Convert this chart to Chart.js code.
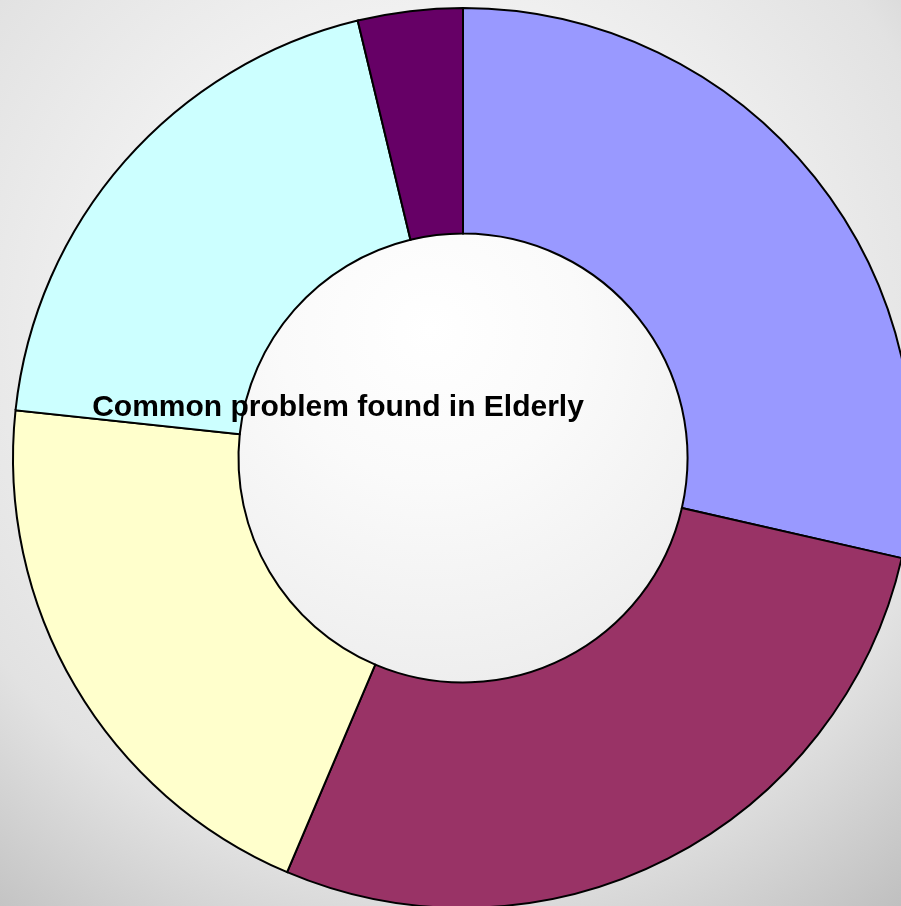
<!DOCTYPE html>
<html>
<head>
<meta charset="utf-8">
<title>Common problem found in Elderly</title>
<script src="https://cdn.jsdelivr.net/npm/chart.js@4/dist/chart.umd.min.js"></script>
<style>
  html, body {
    margin: 0;
    padding: 0;
    width: 901px;
    height: 906px;
    overflow: hidden;
  }
  body {
    background: radial-gradient(circle at 430px 330px,
      #ffffff 0px, #fafafa 150px, #efefef 340px, #e2e2e2 540px, #bdbdbd 760px);
  }
  #wrap {
    position: absolute;
    left: 0;
    top: 0;
  }
</style>
</head>
<body>
<div id="wrap">
  <canvas id="donut" width="926" height="916"></canvas>
</div>
<script>
// problem groups, clockwise from 12 o'clock
const categories = ['Problem 1', 'Problem 2', 'Problem 3', 'Problem 4', 'Problem 5'];
const counts = [38, 37, 27, 26, 5];
const sliceColors = ['#9999FF', '#993366', '#FFFFCC', '#CCFFFF', '#660066'];
const chartTitle = 'Common problem found in Elderly';

// title text sits across the ring, left of centre
const titlePlugin = {
    id: 'centerTitle',
    afterDraw: function (chart) {
        const ctx = chart.ctx;
        ctx.save();
        ctx.font = 'bold 30px "Liberation Sans", Arial, sans-serif';
        ctx.fillStyle = '#000';
        ctx.textAlign = 'center';
        ctx.textBaseline = 'alphabetic';
        ctx.fillText(chartTitle, 338, 416);
        ctx.restore();
    }
};

new Chart(document.getElementById('donut'), {
    type: 'doughnut',
    data: {
        labels: categories,
        datasets: [{
            data: counts,
            backgroundColor: sliceColors,
            borderColor: '#000',
            borderWidth: 2,
            borderJoinStyle: 'miter'
        }]
    },
    options: {
        responsive: false,
        animation: false,
        radius: 450,
        cutout: 228,
        layout: { padding: 0 },
        plugins: {
            legend: { display: false },
            tooltip: { enabled: false },
            title: { display: false }
        }
    },
    plugins: [titlePlugin]
});
</script>
</body>
</html>
